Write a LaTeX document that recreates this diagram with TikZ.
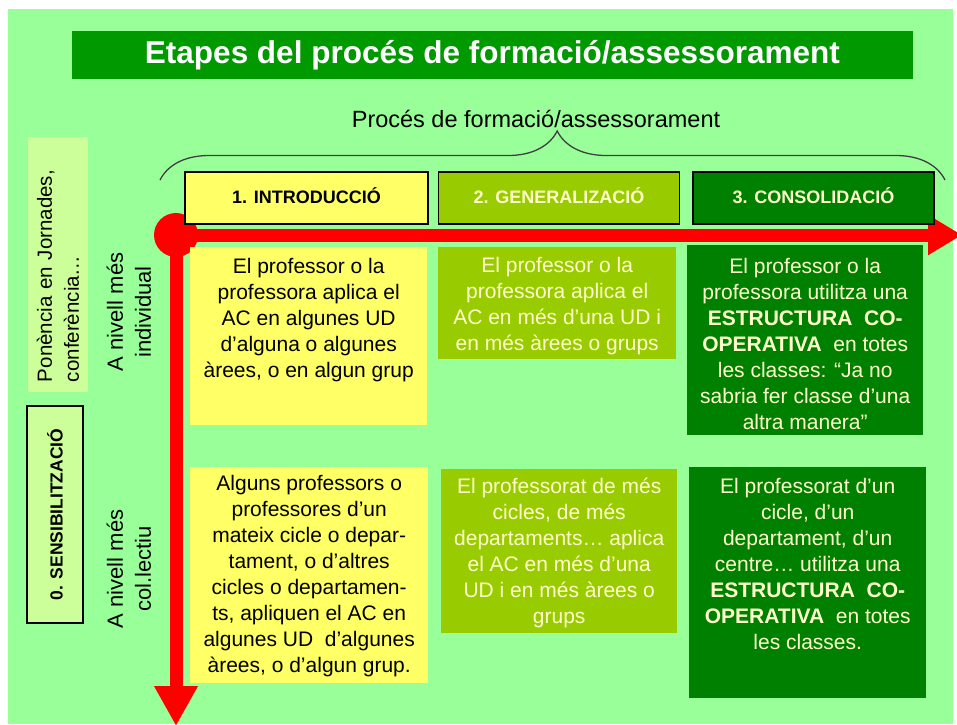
\documentclass[tikz,border=0pt]{standalone}
\usepackage{fontspec}
\setmainfont{Liberation Sans}
\usetikzlibrary{positioning, arrows.meta, decorations.pathreplacing}

\definecolor{bgGreen}{HTML}{99FF99}
\definecolor{titleGreen}{HTML}{009900}
\definecolor{introYellow}{HTML}{FFFF66}
\definecolor{genGreen}{HTML}{99CC00}
\definecolor{consGreen}{HTML}{008000}
\definecolor{paleGreen}{HTML}{CCFF99}
\definecolor{cream}{HTML}{FFFFCC}

\tikzset{
  stagehead/.style={draw=black, line width=1.5pt, minimum width=241pt, minimum height=52pt,
    inner sep=0pt, text height=13pt, text depth=2pt, font=\fontsize{18}{21}\selectfont\bfseries},
  cellbox/.style={anchor=north west, inner sep=0pt},
  celltext/.style={align=center, inner sep=0pt, font=\fontsize{21}{26}\selectfont},
  redline/.style={draw=red, line width=13pt},
  sidelabel/.style={rotate=90, align=center, inner sep=0pt, font=\fontsize{22}{28}\selectfont},
}

\begin{document}
\begin{tikzpicture}[x=1pt, y=-1pt]
    \useasboundingbox (0,0) rectangle (957,724);
    \fill[white] (0,0) rectangle (957,724);
    \fill[bgGreen] (8,9) rectangle (953,724);

    \node[fill=titleGreen, minimum width=841pt, minimum height=48pt, inner sep=0pt,
          text height=22pt, text depth=6pt, text=white,
          font=\fontsize{31.5}{36}\selectfont\bfseries] (title) at (492.5,55)
          {Etapes del procés de formació/assessorament};

    \node[anchor=base, inner sep=0pt, font=\fontsize{23.5}{27}\selectfont] (subtitle) at (536,127)
          {Procés de formació/assessorament};
    \coordinate (braceL) at (160,180);
    \coordinate (braceR) at (945,180);
    \draw[decorate, decoration={brace, amplitude=49pt, aspect=0.506}, line width=1.3pt, draw=black!75]
          (braceL) -- (braceR);

    % eixos vermells
    \node[circle, fill=red, minimum size=44pt, inner sep=0pt] (origin) at (176,235) {};
    \coordinate (hEnd) at (962,235);
    \coordinate (vEnd) at (176,726);
    \draw[redline, -{Triangle[length=34pt, width=38pt]}] (origin.center) -- (hEnd);
    \draw[redline, -{Triangle[length=40pt, width=41pt]}] (origin.center) -- (vEnd);

    \node[stagehead, fill=introYellow, minimum width=243pt] (h1) at (306.5,198) {1. INTRODUCCIÓ};
    \node[stagehead, fill=genGreen, text=cream, right=9pt of h1] (h2) {2. GENERALIZACIÓ};
    \node[stagehead, fill=consGreen, text=cream, right=12pt of h2] (h3) {3. CONSOLIDACIÓ};

    \node[cellbox, fill=introYellow, minimum width=237pt, minimum height=178pt] (c11) at (190,247) {};
    \node[cellbox, fill=genGreen, minimum width=238pt, minimum height=112pt] (c12) at (438,247) {};
    \node[cellbox, fill=consGreen, minimum width=236pt, minimum height=190pt] (c13) at (687,245) {};
    \node[cellbox, fill=introYellow, minimum width=238pt, minimum height=216pt] (c21) at (190,467) {};
    \node[cellbox, fill=genGreen, minimum width=236pt, minimum height=164pt] (c22) at (441,469) {};
    \node[cellbox, fill=consGreen, minimum width=237pt, minimum height=231pt] (c23) at (689,467) {};

    \node[celltext, below=11pt of c11.north] (t11)
          {El professor o la\\professora aplica el\\AC en algunes UD\\d’alguna o algunes\\àrees, o en algun grup};
    \node[celltext, text=cream, below=10pt of c12.north] (t12)
          {El professor o la\\professora aplica el\\AC en més d’una UD i\\en més àrees o grups};
    \node[celltext, text=cream, below=13pt of c13.north] (t13)
          {El professor o la\\professora utilitza una\\\textbf{ESTRUCTURA~ CO-}\\\textbf{OPERATIVA}~ en totes\\les classes: “Ja no\\sabria fer classe d’una\\altra manera”};
    \node[celltext, below=8pt of c21.north] (t21)
          {Alguns professors o\\professores d’un\\mateix cicle o depar-\\tament, o d’altres\\cicles o departamen-\\ts, apliquen el AC en\\algunes UD~ d’algunes\\àrees, o d’algun grup.};
    \node[celltext, text=cream, below=9pt of c22.north] (t22)
          {El professorat de més\\cicles, de més\\departaments… aplica\\el AC en més d’una\\UD i en més àrees o\\grups};
    \node[celltext, text=cream, below=11pt of c23.north] (t23)
          {El professorat d’un\\cicle, d’un\\departament, d’un\\centre… utilitza una\\\textbf{ESTRUCTURA~ CO-}\\\textbf{OPERATIVA}~ en totes\\les classes.};

    \node[fill=paleGreen, rotate=90, text width=235pt, inner xsep=10pt, inner ysep=0pt,
          minimum height=60pt, align=left, font=\fontsize{20.5}{27}\selectfont] (talk) at (58,264.5)
          {Ponència en Jornades,\\conferència…};
    \node[draw=black, line width=1.5pt, fill=paleGreen, rotate=90, minimum width=217pt,
          minimum height=56pt, inner sep=0pt, font=\fontsize{17.5}{21}\selectfont\bfseries] (sens) at (55,514.5)
          {0. SENSIBILITZACIÓ};

    \node[sidelabel] (indiv) at (129,312) {A nivell més\\individual};
    \node[sidelabel] (collect) at (129,569) {A nivell més\\col.lectiu};
\end{tikzpicture}
\end{document}
